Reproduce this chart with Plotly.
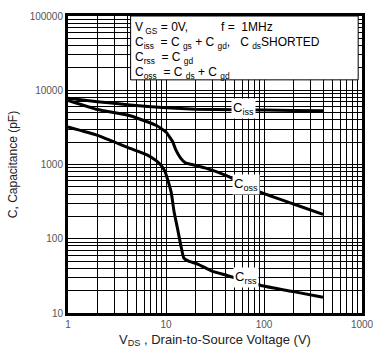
import math
import plotly.graph_objects as go

# Capacitance vs drain-to-source voltage (log-log)
vds_iss = [1, 2, 4.3, 10, 20, 50, 100, 200, 400]
c_iss = [7780, 7000, 6350, 5800, 5550, 5450, 5400, 5350, 5300]

vds_oss = [1, 2, 4.3, 8, 10, 11.7, 12.6, 14.1, 15.8, 18.4, 25, 42, 93, 200, 400]
c_oss = [7300, 5500, 4540, 3350, 2740, 2025, 1570, 1220, 1050, 1000, 900, 705, 421, 294, 213]

vds_rss = [1, 2, 4.3, 6.4, 8, 9, 9.7, 10.2, 11.3, 12.1, 13.1, 14.1, 15.2, 17, 21.3, 29, 42, 93, 200, 400]
c_rss = [3200, 2470, 1650, 1350, 1120, 960, 820, 680, 421, 229, 138, 84, 55, 50, 45.3, 37, 32, 23.5, 19.4, 16.3]

x_ticks = [1, 10, 100, 1000]
x_ticktext = ["1", "10", "100", "1000"]
y_ticks = [10, 100, 1000, 10000, 100000]
y_ticktext = ["10", "100", "1000", "10000", "100000"]

# series name labels: (text, V, C)
curve_labels = [
    ("C<sub>iss</sub>", 62, 5600),
    ("C<sub>oss</sub>", 66, 530),
    ("C<sub>rss</sub>", 65, 30.5),
]

legend_lines = [
    "V<sub> GS</sub> = 0V,",
    "C<sub>iss</sub>  = C <sub>gs</sub> + C <sub>gd</sub>,   C <sub>ds</sub>SHORTED",
    "C<sub>rss</sub>  = C <sub>gd</sub>",
    "C<sub>oss</sub>  = C <sub>ds</sub> + C <sub>gd</sub>",
]

FONT = "Arial, Liberation Sans, sans-serif"

fig = go.Figure()
for xs, ys in [(vds_iss, c_iss), (vds_oss, c_oss), (vds_rss, c_rss)]:
    fig.add_trace(go.Scatter(
        x=xs, y=ys, mode="lines",
        line=dict(color="black", width=3, shape="spline", smoothing=0.4),
        showlegend=False, hoverinfo="skip",
    ))

for text, vx, vy in curve_labels:
    fig.add_annotation(
        x=math.log10(vx), y=math.log10(vy), text=text, showarrow=False,
        font=dict(family=FONT, size=13, color="black"),
        bgcolor="white", borderpad=1,
    )

# condition box
fig.add_shape(type="rect", xref="paper", yref="paper",
              x0=0.213, x1=0.987, y0=0.785, y1=1.0,
              fillcolor="white", line=dict(color="black", width=1), layer="above")
row_y = [0.96, 0.908, 0.858, 0.808]
for txt, yy in zip(legend_lines, row_y):
    fig.add_annotation(xref="paper", yref="paper", x=0.222, y=yy, text=txt,
                       showarrow=False, xanchor="left", yanchor="middle",
                       font=dict(family=FONT, size=12, color="black"))
fig.add_annotation(xref="paper", yref="paper", x=0.515, y=0.962, text="f =  1MHz",
                   showarrow=False, xanchor="left", yanchor="middle",
                   font=dict(family=FONT, size=12, color="black"))

axis_common = dict(
    type="log", showline=True, linewidth=3, linecolor="black", mirror=True,
    showgrid=True, gridcolor="black", gridwidth=1, ticks="",
    zeroline=False,
    tickfont=dict(family=FONT, size=10, color="#555"),
    minor=dict(showgrid=True, gridcolor="black", gridwidth=1, dtick="D1"),
)

fig.update_xaxes(range=[0, 3], tickvals=x_ticks, ticktext=x_ticktext, **axis_common,
                 title=dict(text="V<sub>DS</sub> , Drain-to-Source Voltage (V)",
                            font=dict(family=FONT, size=13, color="#222"), standoff=6))
fig.update_yaxes(range=[1, 5], tickvals=y_ticks, ticktext=y_ticktext, **axis_common,
                 title=dict(text="C, Capacitance (pF)",
                            font=dict(family=FONT, size=12, color="#222"), standoff=10))

fig.update_layout(
    width=384, height=363,
    margin=dict(l=68, r=11, t=10, b=50),
    plot_bgcolor="white", paper_bgcolor="white",
)

fig.write_html("out.html")
